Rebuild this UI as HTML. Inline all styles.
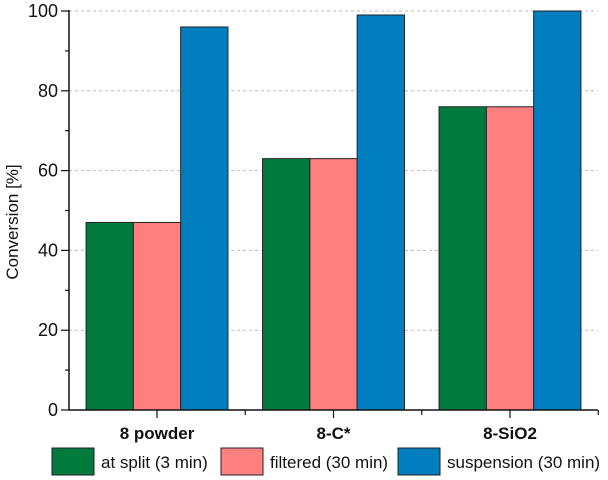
<!DOCTYPE html>
<html><head><meta charset="utf-8"><style>
html,body{margin:0;padding:0;background:#fff;}
svg{display:block;font-family:"Liberation Sans",Arial,sans-serif;}
</style></head><body>
<svg id="chart" width="608" height="480"></svg>
<script>
const categories = ["8 powder", "8-C*", "8-SiO2"];
const seriesNames = ["at split (3 min)", "filtered (30 min)", "suspension (30 min)"];
const atSplit = [47, 63, 76];
const filtered = [47, 63, 76];
const suspension = [96, 99, 100];
const yTicks = [0, 20, 40, 60, 80, 100];
const colors = ["#007b3d", "#ff7f7f", "#007ec0"];

const NS = "http://www.w3.org/2000/svg";
const svg = document.getElementById("chart");
const x0 = 69, x1 = 598, yTop = 11, yBot = 410;
const groupW = 176.5, barW = 47.3;
function yScale(v){ return yBot - (v/100)*(yBot - yTop); }
function xCenter(i){ return 157 + i*groupW; }
function mk(tag, attrs){ const e = document.createElementNS(NS, tag); for (const k in attrs) e.setAttribute(k, attrs[k]); svg.appendChild(e); return e; }

yTicks.forEach(t => {
  if (t === 0) return;
  const g = mk("line", {x1:x0, x2:x1, y1:yScale(t), y2:yScale(t), stroke:"#bbb", "stroke-width":1, "stroke-dasharray":"3,3"});
  
  
});

const series = [atSplit, filtered, suspension];
series.forEach((vals, s) => {
  vals.forEach((v, i) => {
    const x = xCenter(i) - 1.5*barW + s*barW;
    const r = mk("rect", {x:x, y:yScale(v), width:barW, height:yBot - yScale(v), fill:colors[s], stroke:"#222", "stroke-width":1});
    
    
  });
});

const ya = mk("line", {x1:x0, x2:x0, y1:yTop-1, y2:yBot, stroke:"#111", "stroke-width":1.5});


const xa = mk("line", {x1:x0-1, x2:x1, y1:yBot, y2:yBot, stroke:"#111", "stroke-width":1.5});



for (let v = 0; v <= 100; v += 10) {
  const major = v % 20 === 0;
  const tk = mk("line", {x1:x0 - (major ? 8 : 4), x2:x0, y1:yScale(v), y2:yScale(v), stroke:"#111", "stroke-width":1.2});
  
  
}
yTicks.forEach(t => {
  const tl = mk("text", {x:x0 - 11, y:yScale(t) + 6, "text-anchor":"end", "font-size":18, fill:"#111"});
  tl.textContent = t;
  
  
});
categories.forEach((c, i) => {
  const tk = mk("line", {x1:xCenter(i), x2:xCenter(i), y1:yBot, y2:yBot + 8, stroke:"#111", "stroke-width":1.2});
  
  
  const bx = xCenter(i) + groupW/2;
  const mt = mk("line", {x1:bx, x2:bx, y1:yBot, y2:yBot + 5, stroke:"#111", "stroke-width":1.2});
  
  
  const tl = mk("text", {x:xCenter(i), y:439, "text-anchor":"middle", "font-size":17, "font-weight":"bold", fill:"#111"});
  tl.textContent = c;
  
  
});

const yt = mk("text", {x:0, y:0, "text-anchor":"middle", "font-size":17, fill:"#111", transform:"translate(18,222) rotate(-90)"});
yt.textContent = "Conversion [%]";



const legX = [52, 221, 398];
seriesNames.forEach((n, s) => {
  const r = mk("rect", {x:legX[s], y:448, width:42, height:27, fill:colors[s], stroke:"#222", "stroke-width":1});
  
  
  const t = mk("text", {x:legX[s] + 49, y:468, "font-size":17, fill:"#111"});
  t.textContent = n;
  
  
});
</script>
</body></html>
